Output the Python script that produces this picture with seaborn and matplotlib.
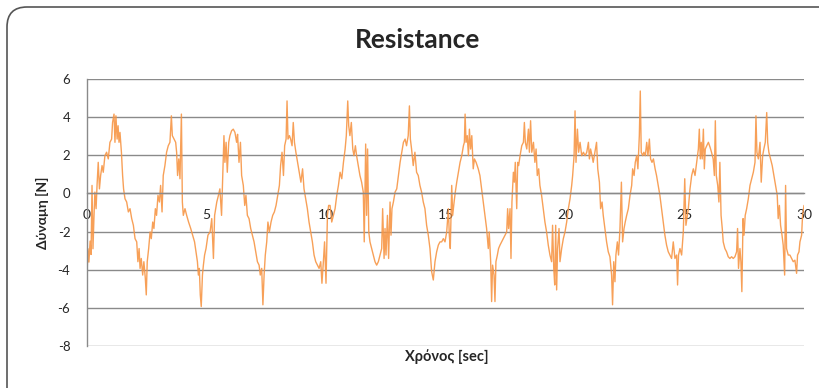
import numpy as np
import pandas as pd
import matplotlib
matplotlib.use("Agg")
import matplotlib.pyplot as plt
import matplotlib.transforms as mtrans
from matplotlib.patches import FancyBboxPatch
import seaborn as sns

sns.set_style("white")
plt.rcParams['font.family'] = ['Lato', 'DejaVu Sans']
plt.rcParams['axes.unicode_minus'] = False

# ---- data (time in s, force in N) ----
t_0_5 = [0.00,0.04,0.08,0.13,0.17,0.21,0.25,0.29,0.33,0.38,0.42,0.47,0.52,0.57,0.63,0.68,0.75,0.82,0.89,0.96,1.03,1.07,1.13,1.17,1.21,1.26,1.30,1.34,1.38,1.44,1.49,1.53,1.59,1.66,1.73,1.80,1.87,1.94,2.01,2.08,2.13,2.18,2.22,2.27,2.33,2.38,2.44,2.48,2.52,2.58,2.64,2.69,2.75,2.80,2.86,2.91,2.97,3.03,3.08,3.14,3.19,3.26,3.33,3.40,3.47,3.53,3.57,3.64,3.71,3.75,3.79,3.84,3.89,3.95,3.99,4.03,4.10,4.17,4.25,4.34,4.42,4.50,4.56,4.62,4.66,4.70,4.74,4.78,4.83,4.87,4.92,4.98,5.06]
f_0_5 = [-4.28,-2.9,-3.6,-2.5,-3.2,0.42,-2.9,-1.3,0.07,-0.8,0.42,1.63,0.24,0.94,1.46,1.11,1.98,2.16,1.81,2.68,2.85,3.72,4.16,2.68,4.07,2.85,3.55,2.68,3.2,2.16,0.94,0.24,-0.28,-0.45,-0.97,-0.8,-1.32,-1.67,-2.37,-2.54,-3.58,-2.89,-3.93,-3.41,-4.28,-3.58,-4.45,-5.32,-3.58,-2.89,-2.02,-2.37,-1.5,-1.84,-0.8,-1.15,-0.1,-0.45,0.42,-0.97,0.94,1.46,2.16,2.5,2.68,4.07,3.03,2.85,2.68,2.16,0.94,1.81,0.77,4.16,-0.45,-1.15,-0.8,-1.15,-1.5,-1.84,-2.19,-2.54,-3.06,-3.58,-4.28,-3.93,-5.32,-5.93,-4.28,-3.76,-3.23,-2.89,-2.19]

t_5_10 = [5.15,5.22,5.29,5.34,5.43,5.50,5.56,5.63,5.68,5.73,5.77,5.82,5.87,5.93,5.98,6.05,6.12,6.19,6.26,6.30,6.36,6.42,6.47,6.54,6.60,6.65,6.71,6.78,6.85,6.92,6.99,7.06,7.13,7.20,7.25,7.31,7.36,7.41,7.46,7.52,7.57,7.63,7.70,7.77,7.84,7.91,7.98,8.05,8.10,8.16,8.22,8.27,8.33,8.37,8.41,8.47,8.52,8.58,8.63,8.68,8.74,8.81,8.88,8.95,9.02,9.08,9.15,9.22,9.29,9.36,9.43,9.50,9.57,9.64,9.71,9.78,9.83,9.89,9.94,10.00,10.06,10.11]
f_5_10 = [-2.02,-1.32,-3.41,-1.15,-0.45,-0.1,0.24,-1.15,0.94,3.03,1.63,2.68,1.11,2.68,3.03,3.29,3.37,3.2,2.68,3.1,1.63,2.68,0.94,0.42,-0.63,-0.1,-1.15,-1.32,-1.84,-2.19,-2.54,-3.06,-3.58,-3.76,-4.28,-3.93,-5.84,-4.28,-3.23,-2.54,-1.5,-2.02,-1.5,-1.15,-0.97,-0.63,-0.1,0.42,1.46,2.16,0.94,2.5,2.85,4.85,2.85,3.03,2.85,2.5,3.72,2.68,2.16,1.63,1.11,0.59,1.29,0.24,-0.28,-0.8,-1.5,-2.02,-2.54,-3.23,-3.58,-3.76,-3.93,-3.58,-4.71,-3.58,-2.54,-4.71,-1.15,-0.63]

t_10_15 = [10.17,10.24,10.31,10.38,10.45,10.52,10.59,10.66,10.73,10.80,10.85,10.91,10.95,11.00,11.06,11.12,11.17,11.23,11.28,11.35,11.42,11.49,11.56,11.60,11.66,11.70,11.74,11.79,11.84,11.91,11.98,12.05,12.12,12.19,12.26,12.33,12.37,12.43,12.47,12.51,12.57,12.62,12.68,12.72,12.76,12.82,12.89,12.96,13.03,13.10,13.17,13.24,13.31,13.37,13.44,13.49,13.53,13.58,13.65,13.72,13.79,13.86,13.93,14.00,14.07,14.14,14.21,14.28,14.35,14.42,14.49,14.56,14.63,14.70,14.77]
f_10_15 = [-0.63,-1.5,-1.15,-0.8,-0.1,0.42,1.11,0.77,1.63,2.33,3.03,4.85,3.55,3.03,3.72,2.33,1.98,2.5,1.98,1.46,0.94,0.59,0.07,-2.54,2.59,-1.15,2.33,-2.02,-2.54,-2.89,-3.23,-3.58,-3.76,-3.58,-3.23,-2.89,-0.8,-3.41,-1.84,-3.23,-1.15,-3.41,-0.45,-2.19,-0.8,-0.45,0.07,0.24,0.94,1.63,2.16,2.68,2.85,2.5,3.03,4.59,2.85,2.33,1.46,2.16,1.11,0.94,0.42,0.07,-0.45,-0.8,-1.67,-2.19,-2.89,-4.1,-4.54,-3.58,-3.06,-2.71,-2.54]

t_15_20 = [14.84,14.91,14.98,15.05,15.12,15.16,15.20,15.26,15.30,15.36,15.41,15.47,15.54,15.61,15.68,15.75,15.79,15.82,15.86,15.91,15.96,16.00,16.05,16.10,16.16,16.21,16.28,16.37,16.44,16.51,16.58,16.65,16.72,16.79,16.83,16.89,16.93,16.97,17.03,17.07,17.11,17.17,17.22,17.28,17.35,17.42,17.49,17.56,17.60,17.64,17.70,17.74,17.78,17.84,17.88,17.92,17.98,18.02,18.06,18.12,18.19,18.26,18.30,18.34,18.40,18.47,18.51,18.56,18.61,18.68,18.74,18.79,18.84,18.90,18.95,19.02,19.09,19.16,19.23,19.30,19.37,19.44,19.48,19.53,19.57,19.61,19.65,19.69,19.75,19.79,19.86,19.93,20.00,20.07,20.14,20.21]
f_15_20 = [-2.54,-2.37,-2.54,-2.02,-0.8,-2.19,-2.89,0.42,-1.15,-0.45,0.07,0.59,1.11,1.63,1.98,2.5,2.68,4.16,2.68,3.03,1.98,3.37,2.33,3.03,1.29,1.81,1.63,1.29,0.94,0.24,-0.45,-1.15,-1.84,-2.89,-2.02,-3.58,-5.67,-3.76,-4.28,-5.67,-3.58,-3.23,-2.89,-2.71,-2.54,-2.37,-2.19,-2.02,-0.8,-1.84,-0.8,-3.41,-0.45,1.11,0.59,1.63,-0.8,1.63,1.46,1.98,2.5,2.68,3.72,2.68,2.33,3.37,2.16,3.81,2.16,2.68,1.63,2.33,0.94,1.29,0.42,-0.1,-0.8,-1.5,-2.02,-2.71,-3.23,-3.58,-1.67,-3.93,-4.8,-1.67,-5.06,-2.89,-1.84,-3.58,-2.89,-2.37,-2.02,-1.5,-0.8,-0.28]

t_20_25 = [20.28,20.32,20.38,20.42,20.46,20.52,20.57,20.63,20.70,20.77,20.84,20.91,20.98,21.02,21.07,21.13,21.18,21.25,21.32,21.37,21.44,21.49,21.55,21.60,21.67,21.74,21.81,21.88,21.95,21.99,22.04,22.09,22.13,22.19,22.24,22.30,22.36,22.41,22.47,22.52,22.58,22.65,22.72,22.79,22.83,22.89,22.94,23.00,23.05,23.11,23.15,23.19,23.25,23.30,23.36,23.42,23.47,23.53,23.58,23.64,23.70,23.77,23.83,23.90,23.97,24.04,24.11,24.18,24.25,24.32,24.39,24.46,24.53,24.60,24.67,24.71,24.75,24.81,24.88,24.95,25.01,25.06,25.16,25.23]
f_20_25 = [0.42,0.94,1.98,4.33,1.63,3.37,2.16,2.68,1.98,2.16,1.98,2.16,2.68,1.81,2.33,1.98,1.63,2.16,2.68,1.29,0.59,-0.8,-0.45,-1.15,-1.84,-2.54,-3.06,-3.32,-4.28,-5.84,-3.58,-4.63,-3.23,-2.54,-3.23,-1.84,0.59,-2.54,-1.84,-1.5,-1.15,-0.8,-0.1,0.42,1.29,0.94,1.63,1.98,1.29,3.03,5.37,2.16,1.98,2.16,1.98,2.68,1.98,2.85,1.81,1.63,1.81,1.29,0.94,0.42,-0.1,-0.8,-1.5,-2.19,-2.71,-3.06,-3.23,-3.41,-2.54,-3.41,-3.23,-4.8,-3.23,-2.89,-3.23,-2.02,0.77,-1.67,-0.8,0.24]

t_25_30 = [25.30,25.37,25.44,25.51,25.58,25.62,25.66,25.70,25.74,25.79,25.83,25.87,25.93,26.00,26.07,26.13,26.20,26.25,26.29,26.33,26.39,26.44,26.48,26.53,26.58,26.62,26.69,26.76,26.83,26.90,26.97,27.04,27.11,27.18,27.22,27.26,27.32,27.36,27.40,27.45,27.49,27.54,27.60,27.67,27.74,27.81,27.88,27.95,27.99,28.03,28.09,28.16,28.21,28.27,28.32,28.38,28.44,28.48,28.53,28.60,28.67,28.74,28.81,28.88,28.92,28.97,29.02,29.08,29.13,29.19,29.23,29.27,29.34,29.41,29.48,29.55,29.62,29.69,29.73,29.79,29.83,29.90,29.94,30.00]
f_25_30 = [0.94,1.29,0.94,1.63,2.33,3.37,1.81,2.68,1.81,3.37,1.29,2.33,2.5,2.68,2.42,2.16,1.81,0.94,3.81,0.94,0.42,-0.45,1.63,-1.15,-1.84,-2.54,-2.89,-3.06,-3.32,-3.41,-3.32,-3.41,-3.32,-3.06,-1.84,-3.93,-2.89,-3.58,-5.15,-1.32,-2.19,-1.15,-0.8,-0.28,0.42,0.77,1.11,1.63,4.07,2.16,1.81,2.68,0.59,1.98,2.33,2.68,4.24,2.68,2.16,1.81,1.46,0.94,0.42,-0.1,-1.32,-0.63,-1.67,-2.19,-2.71,-4.28,0.42,-2.89,-3.23,-3.23,-3.41,-3.58,-3.5,-4.19,-3.23,-3.06,-2.54,-2.19,-1.15,-0.63]

x_ticks = [0, 5, 10, 15, 20, 25, 30]
y_ticks = [-8, -6, -4, -2, 0, 2, 4, 6]
title = "Resistance"
x_label = "Χρόνος [sec]"
y_label = "Δύναμη [N]"

df = pd.DataFrame({
    "t": np.concatenate([t_0_5, t_5_10, t_10_15, t_15_20, t_20_25, t_25_30]),
    "f": np.concatenate([f_0_5, f_5_10, f_10_15, f_15_20, f_20_25, f_25_30]),
})

fig = plt.figure(figsize=(8.2, 3.88), dpi=100)
fig.patch.set_facecolor("white")

# rounded chart-area border (pixel coordinates), cropped at right and bottom
border = FancyBboxPatch((7, -25), 840, 406, boxstyle="round,pad=0,rounding_size=20",
                        transform=mtrans.IdentityTransform(), ec="#555555",
                        fc="none", lw=1.2)
fig.add_artist(border)

ax = fig.add_axes([87/820, 1-346/388, (804-87)/820, (346-79)/388])
sns.lineplot(data=df, x="t", y="f", ax=ax, color="#F79646", lw=1.0,
             estimator=None, sort=False, alpha=0.9)

ax.set_xlim(0, 30)
ax.set_ylim(-8, 6)
ax.set_xticks(x_ticks)
ax.set_yticks(y_ticks)
ax.grid(axis="y", color="#8a8a8a", lw=1.0)
ax.grid(axis="x", visible=False)
ax.set_axisbelow(True)
for s in ["top", "right"]:
    ax.spines[s].set_visible(False)
ax.spines["left"].set_color("#8a8a8a")
ax.spines["left"].set_linewidth(1.0)
ax.spines["bottom"].set_position(("data", 0))
ax.spines["bottom"].set_color("#8a8a8a")
ax.spines["bottom"].set_linewidth(1.0)
ax.tick_params(axis="x", length=0, labelsize=10, pad=11)
ax.tick_params(axis="y", length=0, labelsize=9.5, pad=12)
ax.set_xlabel("")
ax.set_ylabel("")

fig.text(418/820, 1-40/388, title, ha="center", va="center",
         fontsize=19, fontweight="bold")
fig.text(447/820, 1-357/388, x_label, ha="center", va="center",
         fontsize=10.5, fontweight="bold")
fig.text(42/820, 1-213/388, y_label, ha="center", va="center",
         fontsize=10, fontweight="bold", rotation=90)

fig.savefig("out.png", dpi=100)
